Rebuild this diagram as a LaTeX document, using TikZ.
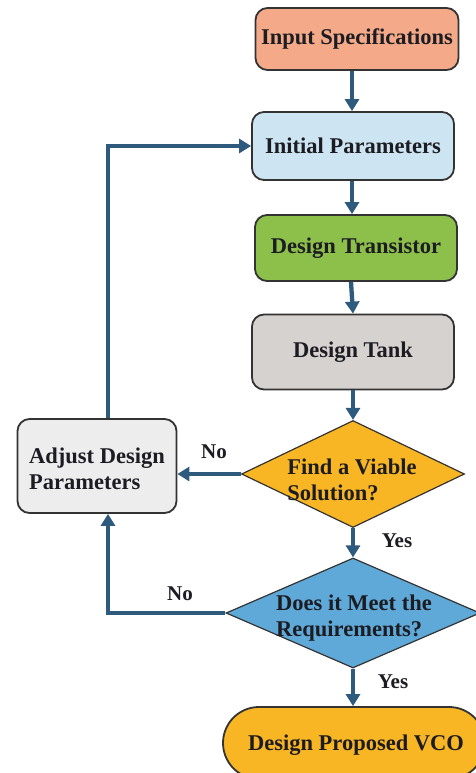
\documentclass[tikz,border=0pt]{standalone}
\usepackage{fontspec}
\setmainfont{Liberation Serif}
\usetikzlibrary{shapes.geometric,arrows.meta}
\definecolor{linec}{HTML}{2E5A7E}
\definecolor{bordc}{HTML}{333333}
\definecolor{txtc}{HTML}{1C1C22}
\definecolor{cin}{HTML}{F4AA88}
\definecolor{cinit}{HTML}{CDE5F2}
\definecolor{ctr}{HTML}{8DC04A}
\definecolor{ctank}{HTML}{D6D2CF}
\definecolor{cadj}{HTML}{EEEDEE}
\definecolor{cyel}{HTML}{F8B625}
\definecolor{cblue}{HTML}{5FA9D8}
\begin{document}
\begin{tikzpicture}[x=1pt,y=-1pt,
  txt/.style={font=\fontsize{22.5}{26}\selectfont\bfseries, text=txtc},
  boxn/.style={txt, draw=bordc, line width=1.8pt, rounded corners=12pt, inner sep=0pt, minimum width=202pt, minimum height=66pt},
  dia/.style={diamond, draw=bordc, line width=1.2pt, inner sep=0pt, aspect=2},
  lbl/.style={font=\fontsize{21}{23}\selectfont\bfseries, text=txtc},
  arr/.style={line width=4.3pt, draw=linec, -{Triangle[length=12pt,width=14pt]}},
  conn/.style={line width=4pt, draw=linec}]
\useasboundingbox (0,0) rectangle (476,773);
\fill[white] (0,0) rectangle (476,773);
\begin{scope}
\clip (0,0) rectangle (476,773);
\node[boxn, fill=cin, minimum height=62pt, minimum width=203pt] (in) at (357,39) {Input Specifications};
\node[boxn, fill=cinit, minimum height=68pt] (init) at (353,146) {Initial Parameters};
\node[boxn, fill=ctr] (tr) at (356,248) {Design Transistor};
\node[boxn, fill=ctank, minimum height=75pt] (tank) at (353,352) {Design Tank};
\node[boxn, fill=cadj, minimum width=159pt, minimum height=94pt] (adj) at (97,466) {};
\node[txt, align=left] at (97,469) {Adjust Design\\Parameters};
\node[dia, fill=cyel, minimum width=223pt, minimum height=107pt] (d1) at (353,474) {};
\node[txt, align=left] at (352,480) {Find a Viable\\Solution?};
\node[dia, fill=cblue, minimum width=254pt, minimum height=110pt] (d2) at (353,613) {};
\node[txt, align=left] at (354,618) {Does it Meet the\\Requirements?};
\node[boxn, fill=cyel, minimum width=262pt, minimum height=72pt, rounded corners=36pt] (vco) at (354,743) {};
\node[txt] at (356,745) {Design Proposed VCO};

\draw[arr] (in.south -| 352,0) -- (init.north -| 352,0);
\draw[arr] (init.south -| 352,0) -- (tr.north -| 352,0);
\draw[arr] (tr.south -| 351,0) -- (tank.north -| 353,0);
\draw[arr] (tank.south -| 353,0) -- (d1.north);
\draw[arr] (d1.west) -- (adj.east |- d1.west);
\draw[arr] (d1.south) -- (d2.north);
\draw[arr] (d2.south) -- (vco.north -| d2.south);
\draw[arr] (d2.west) -| ([xshift=11pt]adj.south);
\draw[arr] ([xshift=11pt]adj.north) |- (init.west);

\node[lbl] (no1) at (214,452) {No};
\node[lbl] (yes1) at (397,541) {Yes};
\node[lbl] (no2) at (180,594) {No};
\node[lbl] (yes2) at (393,682) {Yes};
\end{scope}
\end{tikzpicture}
\end{document}
